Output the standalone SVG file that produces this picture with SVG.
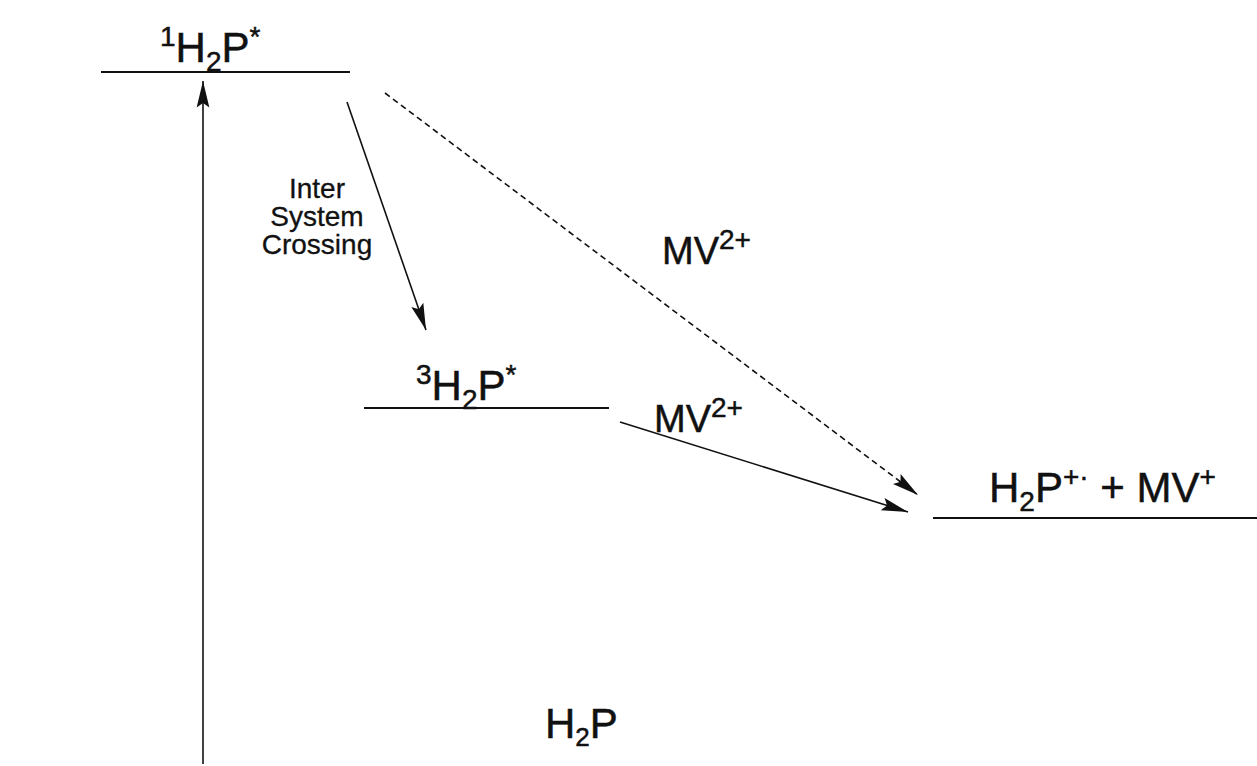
<svg xmlns="http://www.w3.org/2000/svg" width="1257" height="766" viewBox="0 0 1257 766">
<style>
text{font-family:"Liberation Sans",Arial,sans-serif;fill:#111;stroke:#111;stroke-width:0.5}
.lbl{font-size:42px}
.mv{font-size:38px}
.sm{font-size:28px;stroke-width:0.3}
.lvl{stroke:#111;stroke-width:2;fill:none}
.arr{stroke:#111;stroke-width:1.6;fill:none}
.dash{stroke-dasharray:6 4}
</style>
<defs>
<marker id="ah" markerUnits="userSpaceOnUse" markerWidth="30" markerHeight="20" viewBox="-24 -7 26 14" refX="0" refY="0" orient="auto">
<path d="M0,0 L-23,-5.5 L-19,0 L-23,5.5 z" fill="#111"/>
</marker>
</defs>
<rect width="1257" height="766" fill="#fff"/>
<g id="level-1H2P">
<line class="lvl" x1="101" y1="72" x2="350" y2="72"/>
<text class="lbl" x="160" y="62"><tspan font-size="28" dy="-16">1</tspan><tspan dy="16">H</tspan><tspan font-size="28" dy="9">2</tspan><tspan dy="-9">P</tspan><tspan font-size="28" dy="-16">*</tspan></text>
</g>
<g id="level-3H2P">
<line class="lvl" x1="364" y1="408" x2="609" y2="408"/>
<text class="lbl" x="416" y="400"><tspan font-size="28" dy="-16">3</tspan><tspan dy="16">H</tspan><tspan font-size="28" dy="9">2</tspan><tspan dy="-9">P</tspan><tspan font-size="28" dy="-16">*</tspan></text>
</g>
<g id="level-products">
<line class="lvl" x1="933" y1="518" x2="1257" y2="518"/>
<text class="lbl" x="989" y="502">H<tspan font-size="28" dy="9">2</tspan><tspan dy="-9">P</tspan><tspan font-size="28" dy="-16">+·</tspan><tspan dy="16"> + MV</tspan><tspan font-size="28" dy="-16">+</tspan></text>
</g>
<g id="ground-H2P">
<text class="lbl" x="545" y="738" font-size="38">H<tspan font-size="26" dy="8">2</tspan><tspan dy="-8">P</tspan></text>
</g>
<g id="label-isc">
<text class="sm" text-anchor="middle"><tspan x="317" y="198">Inter</tspan><tspan x="317" y="226">System</tspan><tspan x="317" y="254">Crossing</tspan></text>
</g>
<g id="label-mv-top">
<text class="mv" x="662" y="264">MV<tspan font-size="28" dy="-15">2+</tspan></text>
</g>
<g id="label-mv-mid">
<text class="mv" x="654" y="432">MV<tspan font-size="28" dy="-15">2+</tspan></text>
</g>
<g id="connectors">
<line class="arr" x1="203" y1="764" x2="203" y2="81" marker-end="url(#ah)"/>
<line class="arr" x1="347" y1="102" x2="426" y2="330" marker-end="url(#ah)"/>
<line class="arr dash" x1="385" y1="93" x2="918" y2="495" marker-end="url(#ah)"/>
<line class="arr" x1="620" y1="422" x2="908" y2="512" marker-end="url(#ah)"/>
</g>
</svg>
